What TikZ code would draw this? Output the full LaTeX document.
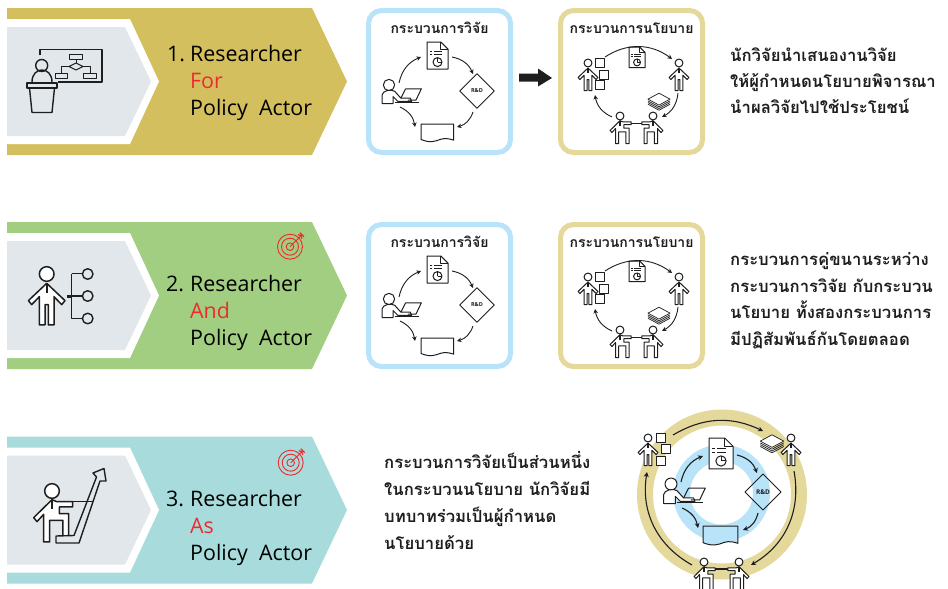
\documentclass[tikz,border=0pt]{standalone}
\usepackage{fontspec}
\usetikzlibrary{arrows.meta,calc}
\setmainfont{Open Sans}
\newfontfamily\thaifont[Script=Thai]{Loma}
\definecolor{gold}{HTML}{D4BF5F}
\definecolor{leaf}{HTML}{A2CE82}
\definecolor{teal2}{HTML}{A8DBDB}
\definecolor{pale}{HTML}{E2E7EB}
\definecolor{skyb}{HTML}{B9E3F8}
\definecolor{sand}{HTML}{E4D89A}
\definecolor{redt}{HTML}{EE2A2E}
\definecolor{ink}{HTML}{1E1E1E}
\def\icolw{1pt}
\tikzset{
  ico/.style={draw=ink,line width=\icolw,line join=round,fill=white},
  iconl/.style={draw=ink,line width=\icolw,line join=round},
  bigl/.style={draw=ink,line width=1.4pt,line join=round},
  cyc/.style={draw=ink,line width=0.9pt,-{Stealth[length=4.5pt,width=4.5pt]},bend left=28},
  cyc2/.style={draw=ink,line width=1.1pt,-{Stealth[length=5pt,width=5pt]},bend left=28},
  lab/.style={anchor=base west,inner sep=0pt,font=\fontsize{21.4}{21.4}\selectfont,text=black},
  labr/.style={lab,text=redt},
  ttl/.style={anchor=base,inner sep=0pt,font=\thaifont\bfseries\fontsize{14}{14}\selectfont,text=ink},
  thl/.style={anchor=base west,inner sep=0pt,font=\thaifont\bfseries\fontsize{16.7}{16.7}\selectfont,text=ink},
  rd/.style={inner sep=0pt,font=\bfseries\fontsize{5.5}{5.5}\selectfont,text=ink},
  pics/person/.style={code={
    \path[ico] (0,0) circle (22);
    \path[ico] (0,28)--(-55,80)--(-45,92)--(-22,68)--(-22,153)--(-5,153)--(-5,92)--(5,92)--(5,153)--(22,153)--(22,68)--(45,92)--(55,80)--cycle;
    \draw[draw=ink,line width=1.6pt] (0,28)--(0,58);
  }},
  pics/seated/.style={code={
    \path[ico] (0,0) circle (22);
    \path[ico] (0,26)--(-55,80)--(-45,92)--(-25,70)--(-25,153)--(-7,153)--(-7,88)--(33,88)--(33,153)--(50,153)--(50,68)--(22,68)--(22,48)--(62,48)--(62,32)--(14,32)--cycle;
    \draw[draw=ink,line width=1.6pt] (0,28)--(0,55);
  }},
  pics/docu/.style={code={
    \path[ico] (0,0)--(46,0)--(70,24)--(70,90)--(0,90)--cycle;
    \path[iconl] (46,0)--(46,24)--(70,24);
    \path[iconl] (10,32)--(17,32) (23,32)--(50,32) (10,43)--(17,43) (23,43)--(50,43);
    \path[iconl] (35,67) circle (15);
    \path[iconl] (35,67)--(35,52) (35,67)--(50,67);
  }},
  pics/wavy/.style={code={
    \path[iconl,fill=#1] (0,0)--(105,0)--(105,52) .. controls (80,44) and (70,46) .. (50,54) .. controls (30,60) and (15,56) .. (0,50)--cycle;
  }},
  pics/diam/.style={code={\path[iconl,fill=#1] (-54,0)--(0,-54)--(54,0)--(0,54)--cycle;}},
  pics/laptopper/.style={code={
    \path[ico] (0,0) circle (18);
    \path[ico] (-22,59)--(-22,32) .. controls (-22,18) and (8,12) .. (18,20)--(38,42)--(68,42)--(72,52)--(28,52)--(13,37)--(13,59)--cycle;
    \path[iconl] (53,12)--(103,12)--(86,48)--(60,48) (53,12)--(38,42);
    \path[iconl] (18,57)--(96,57);
  }},
  pics/stackp/.style={code={
    \path[ico,line width=0.7pt] (0,-8)--(13,-1)--(0,6)--(-13,-1)--cycle;
    \path[iconl,line width=0.7pt] (-13,1)--(0,8)--(13,1) (-13,3)--(0,10)--(13,3) (-13,5)--(0,12)--(13,5);
  }},
  pics/sq/.style={code={\path[ico,line width=0.9pt] (-4.5,-4.5) rectangle (4.5,4.5);}},
  pics/target/.style={code={
    \path[draw=redt,line width=0.9pt] (0,0) circle (12.5) (0,0) circle (8.5) (0,0) circle (3.8);
    \path[draw=redt,line width=0.9pt] (0,0)--(11,-11);
    \path[draw=redt,line width=1.2pt] (8,-12)--(11,-11)--(12,-8) (10,-14)--(12,-12)--(14,-10);
  }},
}
\newcommand{\chevbg}[2]{%
  \begin{scope}[shift={(0,#2)}]
    \fill[#1] (7,8)--(312,8)--(347,81.5)--(312,155)--(7,155)--cycle;
    \fill[white] (7,19)--(130,19)--(159,81.5)--(130,144)--(7,144)--cycle;
    \fill[pale] (7,27)--(125,27)--(151,81.5)--(125,136)--(7,136)--cycle;
  \end{scope}}
\newcommand{\procbox}[5]{% x, y, colour, title, name
  \draw[#3,line width=5pt,rounded corners=13pt,fill=white] (#1,#2) rectangle ++(142,142);
  \node[ttl] (#5) at ($(#1,#2)+(71,23)$) {#4};}
\newcommand{\rcycle}[1]{%
  \begin{scope}[shift={(0,#1)}]
    \pic at (427,42) [scale=0.3] {docu};
    \pic at (477,91) [scale=0.32] {diam=white};
    \node[rd] (rd#1) at (477,91) {R\&D};
    \pic at (389,85) [scale=0.314] {laptopper};
    \pic at (421,124) [scale=0.31] {wavy=white};
    \coordinate (a1#1) at (399,83); \coordinate (a2#1) at (421,57);
    \coordinate (b1#1) at (452,57); \coordinate (b2#1) at (473,74);
    \coordinate (c1#1) at (473,112); \coordinate (c2#1) at (457,127);
    \coordinate (d1#1) at (400,107); \coordinate (d2#1) at (415,127);
    \draw[cyc] (a1#1) to (a2#1);
    \draw[cyc] (b1#1) to (b2#1);
    \draw[cyc] (c1#1) to (c2#1);
    \draw[cyc] (d1#1) to (d2#1);
  \end{scope}}
\newcommand{\pcycle}[1]{%
  \begin{scope}[shift={(0,#1)}]
    \pic at (588,63) [scale=0.18] {person};
    \pic at (679,63) [scale=0.18] {person};
    \pic at (620,116) [scale=0.18] {seated};
    \pic at (653,116) [xscale=-0.18,yscale=0.18] {seated};
    \coordinate (sl#1) at (631,123); \coordinate (sr#1) at (642,123);
    \draw[draw=ink,line width=1pt] (sl#1) -- (sr#1);
    \pic at (600,63) {sq}; \pic at (604,75) {sq}; \pic at (600,85) {sq};
    \pic at (629,47) [scale=0.23] {docu};
    \pic at (659,100) [scale=0.85] {stackp};
    \coordinate (e1#1) at (605,57); \coordinate (e2#1) at (672,59);
    \coordinate (f1#1) at (678,93); \coordinate (f2#1) at (662,117);
    \coordinate (g1#1) at (612,117); \coordinate (g2#1) at (595,95);
    \draw[cyc,bend left=35] (e1#1) to (e2#1);
    \draw[cyc] (f1#1) to (f2#1);
    \draw[cyc] (g1#1) to (g2#1);
  \end{scope}}
\newcommand{\polact}{Policy\hspace{0.27em} Actor}
\begin{document}
\begin{tikzpicture}[x=1pt,y=-1pt]
\useasboundingbox (0,0) rectangle (948,589);
\fill[white] (0,0) rectangle (948,589);
\chevbg{gold}{0}
\chevbg{leaf}{214}
\chevbg{teal2}{428.5}
% icon 1
\path[bigl] (40,55)--(40,49.5)--(102,49.5)--(102,82)--(58,82);
\path[bigl] (41.7,65.5) circle (6);
\path[bigl] (32,82) .. controls (32,66) and (52,66) .. (52,82);
\path[bigl] (27,83) rectangle (57,88);
\path[bigl] (29.5,88)--(32,112.5)--(52,112.5)--(54.5,88);
\path[iconl] (69,54) rectangle (82.5,59.5);
\path[iconl] (76,59.5)--(76,63);
\path[iconl] (69,66.5)--(76,63)--(83,66.5)--(76,70)--cycle;
\path[iconl] (69,66.5)--(61.5,66.5)--(61.5,72.5) (83,66.5)--(90,66.5)--(90,72.5);
\path[iconl] (55.5,73) rectangle (67.5,78);
\path[iconl] (83.5,73) rectangle (96,78);
% icon 2
\begingroup\def\icolw{1.5pt}
\pic at (46.7,274) [scale=0.333] {person};
\endgroup
\path[bigl] (71.5,273.5)--(82.5,273.5) (71.5,273.5)--(71.5,318.5)--(82.5,318.5) (71.5,296)--(82.5,296);
\path[draw=ink,line width=2.4pt] (67,296.5)--(72,296.5);
\path[bigl] (87.7,274) circle (5.3) (87.7,296) circle (5.3) (87.7,318.5) circle (5.3);
% icon 3
\begingroup\def\icolw{1.5pt}
\pic at (52,491) [scale=0.333] {seated};
\endgroup
\path[bigl,fill=pale] (56,543)--(79,543)--(100,481)--(106,481)--(104,468.5)--(93,473)--(96.5,477)--(74,535.5)--(56,536)--cycle;
\path[bigl] (72,501.5)--(93,501.5);
% labels
\node[lab] (n1) at (167,61) {1.};
\node[lab] (r1) at (190,61) {Researcher};
\node[labr] (f1) at (190,88) {For};
\node[lab] (p1) at (190,115) {\polact};
\node[lab] (n2) at (166,291) {2.};
\node[lab] (r2) at (190,291) {Researcher};
\node[labr] (f2) at (190,318) {And};
\node[lab] (p2) at (190,345) {\polact};
\node[lab] (n3) at (166,506) {3.};
\node[lab] (r3) at (190,506) {Researcher};
\node[labr] (f3) at (190,533) {As};
\node[lab] (p3) at (190,560) {\polact};
\pic at (290,246.7) {target};
\pic at (290.7,462.7) {target};
% boxes
\procbox{368.5}{10.5}{skyb}{กระบวนการวิจัย}{t1}
\procbox{560.5}{10.5}{sand}{กระบวนการนโยบาย}{t2}
\procbox{368.5}{224.5}{skyb}{กระบวนการวิจัย}{t3}
\procbox{560.5}{224.5}{sand}{กระบวนการนโยบาย}{t4}
\rcycle{0}
\rcycle{214}
\pcycle{0}
\pcycle{214}
\fill[ink] (519,73.5)--(538,73.5)--(538,68.5)--(552,78)--(538,86.5)--(538,81.5)--(519,81.5)--cycle;
% right hand texts
\node[thl] (a) at (730,61) {นักวิจัยนำเสนองานวิจัย};
\node[thl] (b) at (730,87) {ให้ผู้กำหนดนโยบายพิจารณา};
\node[thl] (c) at (730,113) {นำผลวิจัยไปใช้ประโยชน์};
\node[thl] (d) at (730,265) {กระบวนการคู่ขนานระหว่าง};
\node[thl] (e) at (730,292) {กระบวนการวิจัย กับกระบวน};
\node[thl] (f) at (730,318) {นโยบาย ทั้งสองกระบวนการ};
\node[thl] (g) at (730,345) {มีปฏิสัมพันธ์กันโดยตลอด};
\node[thl] (h) at (384,468) {กระบวนการวิจัยเป็นส่วนหนึ่ง};
\node[thl] (i) at (384,495) {ในกระบวนนโยบาย นักวิจัยมี};
\node[thl] (j) at (384,522) {บทบาทร่วมเป็นผู้กำหนด};
\node[thl] (k) at (384,549) {นโยบายด้วย};
% nested diagram
\draw[sand,line width=16pt] (722,494.5) circle (77);
\draw[skyb,line width=17pt] (721.5,493) circle (40);
\pic at (709,438) [scale=0.343] {docu};
\pic at (763,492) [scale=0.333] {diam=none};
\node[rd,font=\bfseries\fontsize{6.5}{6.5}\selectfont] (rdc) at (763,492) {R\&D};
\pic at (671,484) [scale=0.333] {laptopper};
\pic at (703,526) [scale=0.333] {wavy=skyb};
\coordinate (ia1) at (681,482); \coordinate (ia2) at (703,456);
\coordinate (ib1) at (737,455); \coordinate (ib2) at (757,473);
\coordinate (ic1) at (758,513); \coordinate (ic2) at (743,530);
\coordinate (id1) at (682,508); \coordinate (id2) at (698,528);
\draw[cyc2] (ia1) to (ia2);
\draw[cyc2] (ib1) to (ib2);
\draw[cyc2] (ic1) to (ic2);
\draw[cyc2] (id1) to (id2);
\pic at (648,438) [scale=0.18] {person};
\pic at (791,438) [scale=0.18] {person};
\pic at (704,562) [scale=0.18] {seated};
\pic at (739,562) [xscale=-0.18,yscale=0.18] {seated};
\coordinate (bl) at (715,569); \coordinate (br) at (728,569);
\draw[draw=ink,line width=1.2pt] (bl) -- (br);
\pic at (661,438) {sq}; \pic at (666,449) {sq}; \pic at (661,461) {sq};
\pic at (772,442) [scale=0.9] {stackp};
\coordinate (oa1) at (673,435); \coordinate (oa2) at (763,431);
\coordinate (ob1) at (794,471); \coordinate (ob2) at (751,565);
\coordinate (oc1) at (692,565); \coordinate (oc2) at (647,472);
\draw[cyc2] (oa1) to (oa2);
\draw[cyc2,bend left=35] (ob1) to (ob2);
\draw[cyc2,bend left=35] (oc1) to (oc2);
\end{tikzpicture}
\end{document}
